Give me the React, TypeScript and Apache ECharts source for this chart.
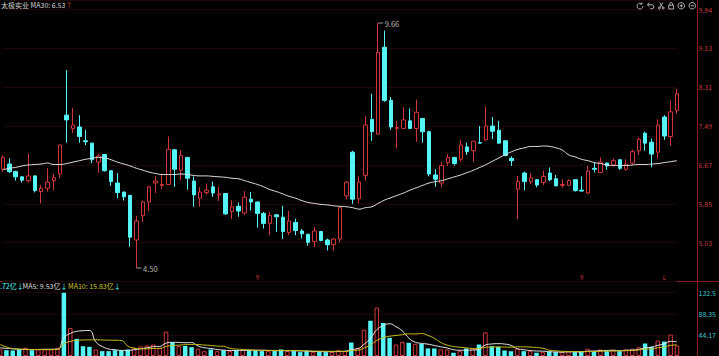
import React, { useEffect, useRef } from 'react';
import * as echarts from 'echarts';

// ---- data (daily candles) ----
const opens = [6.58,6.69,6.53,6.42,6.34,6.44,6.11,6.18,6.34,6.48, 7.72,7.44,7.47,7.18,7.13,6.73,6.89,6.55,6.29,6.10, 6.03,5.09,5.60,5.89,6.29,6.24,6.26,6.99,6.56,6.83, 6.33,5.97,6.09,6.21,6.04,6.07,5.69,5.80,5.66,5.95, 5.89,5.65,5.44,5.62,5.57,5.25,5.46,5.28,5.21,5.06, 5.27,5.09,4.99,5.11,6.02,6.94,5.96,6.45,7.63,7.32, 9.15,8.03,7.44,7.44,7.60,7.44,7.65,7.37,6.46,6.29, 6.72,6.83,6.79,7.05,6.97,7.14,7.20,7.49,7.40,7.18, 6.81,6.16,6.50,6.32,6.36,6.30,6.50,6.38,6.24,6.24, 6.36,6.14,6.08,6.60,6.51,6.71,6.67,6.78,6.58,6.71, 6.97,7.34,7.15,6.94,7.68,7.27,7.82];
const closes = [6.83,6.53,6.42,6.35,6.44,6.13,6.18,6.31,6.40,7.09, 7.62,7.51,7.27,7.16,6.78,6.86,6.55,6.32,6.09,6.00, 5.15,5.49,5.89,6.21,6.33,6.26,7.00,6.58,6.87,6.39, 6.04,6.10,6.14,6.08,6.06,5.64,5.79,5.70,5.99,5.89, 5.65,5.44,5.61,5.58,5.27,5.49,5.29,5.22,5.04,5.28, 5.08,4.99,5.11,5.77,6.31,5.95,6.31,7.51,7.37,9.04, 8.03,7.47,7.46,7.62,7.44,7.78,7.37,6.48,6.37,6.66, 6.83,6.70,7.09,6.95,7.17,7.13,7.49,7.38,7.13,6.87, 6.76,6.32,6.32,6.40,6.25,6.43,6.36,6.23,6.26,6.34, 6.13,6.12,6.54,6.58,6.73,6.65,6.76,6.60,6.69,6.95, 7.21,7.13,6.90,7.51,7.28,7.79,8.17];
const lows = [6.52,6.50,6.34,6.30,6.30,6.09,5.86,6.11,6.14,6.39, 7.14,7.34,7.14,7.09,6.71,6.51,6.53,6.23,5.97,5.92, 4.95,4.50,5.47,5.70,6.08,6.17,6.25,6.21,6.35,6.15, 5.79,5.79,6.04,6.00,5.91,5.62,5.53,5.58,5.62,5.71, 5.35,5.33,5.19,5.26,5.11,5.19,5.19,5.12,4.97,4.94, 5.06,4.87,4.87,5.04,5.95,5.85,5.86,6.34,7.18,7.31, 8.00,7.41,7.02,7.43,7.43,7.16,7.14,6.43,6.21,6.20, 6.65,6.66,6.74,6.88,6.74,7.12,7.18,7.21,7.12,6.85, 6.65,5.53,6.14,6.27,6.20,6.25,6.33,6.22,6.19,6.23, 6.11,6.11,6.05,6.51,6.50,6.57,6.64,6.57,6.55,6.68, 6.88,6.97,6.62,6.81,7.20,7.07,7.75];
const highs = [6.87,6.81,6.55,6.43,6.90,6.45,6.25,6.60,6.48,7.10, 8.67,7.87,7.72,7.41,7.14,6.90,6.90,6.56,6.50,6.11, 6.04,5.60,5.92,6.23,6.44,6.46,7.27,7.00,6.98,6.84, 6.43,6.20,6.28,6.32,6.21,6.08,5.93,5.88,6.12,6.10, 5.90,5.68,5.68,5.63,5.81,5.70,5.54,5.32,5.22,5.36, 5.28,5.12,5.13,5.79,6.33,6.97,6.43,7.70,8.17,9.66, 9.50,8.10,7.60,7.89,7.86,8.05,7.66,7.39,6.58,6.74, 6.90,6.84,7.20,7.14,7.18,7.49,7.90,7.68,7.60,7.19, 6.85,6.44,6.53,6.50,6.37,6.55,6.62,6.46,6.37,6.37, 6.37,6.43,6.65,6.72,6.83,6.72,6.81,6.79,6.79,6.99, 7.25,7.37,7.23,7.63,7.72,8.03,8.27];
const ma30 = [6.57,6.60,6.62,6.65,6.67,6.68,6.69,6.71,6.68,6.68, 6.70,6.73,6.76,6.79,6.81,6.83,6.82,6.78,6.73,6.69, 6.65,6.60,6.56,6.52,6.49,6.47,6.47,6.47,6.48,6.47, 6.45,6.44,6.44,6.43,6.42,6.41,6.39,6.38,6.34,6.30, 6.26,6.21,6.15,6.11,6.06,6.01,5.97,5.92,5.88,5.86, 5.84,5.83,5.81,5.80,5.79,5.77,5.74,5.77,5.79,5.86, 5.93,5.98,6.03,6.08,6.14,6.19,6.24,6.29,6.32,6.34, 6.38,6.42,6.46,6.51,6.56,6.62,6.68,6.75,6.82,6.89, 6.95,7.00,7.03,7.06,7.06,7.07,7.06,7.03,6.98,6.88, 6.84,6.79,6.76,6.72,6.70,6.67,6.66,6.66,6.66,6.67, 6.68,6.68,6.69,6.70,6.72,6.74,6.76];
const volumes = [13.7,12.2,11.6,13.7,17.2,12.2,13.7,13.7,13.7,17.2, 132.5,58.7,35.9,20.5,19.3,13.7,10.2,10.2,12.2,12.2, 13.7,17.2,20.5,22.0,24.0,17.2,51.0,28.8,21.0,21.0, 18.5,15.5,10.2,13.7,10.2,12.2,10.2,12.2,13.7,12.2, 12.2,10.2,10.2,10.2,13.7,10.2,10.2,8.1,10.2,8.1, 10.2,8.1,8.5,12.2,10.2,28.2,17.2,55.2,73.8,101.4, 69.1,38.0,24.0,29.7,27.6,25.5,25.5,15.8,15.8,13.7, 13.7,6.8,10.2,15.8,15.8,24.0,49.6,20.5,19.3,11.6, 10.2,15.1,10.2,10.2,6.8,8.1,9.5,8.1,8.1,9.5, 8.1,9.5,15.1,9.5,13.7,10.2,12.2,10.2,13.7,15.1, 18.5,26.1,19.3,32.4,30.3,44.8,22.0];
const volMA5 = [17.0,16.0,15.0,14.0,13.68,13.38,13.68,14.1,14.1,14.1, 38.16,47.16,51.6,52.96,53.38,29.62,19.92,14.78,13.12,11.7, 11.7,13.1,15.16,17.12,19.48,20.18,26.94,28.6,28.4,27.8, 28.06,20.96,17.24,15.78,13.62,12.36,11.3,11.7,11.7,12.1, 12.1,12.1,11.7,11.0,11.3,10.9,10.9,10.48,10.48,9.36, 9.36,8.94,9.02,9.42,9.84,13.44,15.26,24.6,36.92,55.16, 63.34,67.5,61.26,52.44,37.68,28.96,26.46,24.82,22.04,19.26, 16.9,13.16,12.04,12.04,12.46,14.52,23.08,25.14,25.84,25.0, 22.24,15.34,13.28,11.46,10.5,10.08,8.96,8.54,8.12,8.66, 8.66,8.66,10.06,10.34,11.18,11.6,12.14,11.16,12.0,12.28, 13.94,16.72,18.54,22.28,25.32,30.58,29.76];
const volMA10 = [24.0,19.0,15.5,14.5,14.0,13.8,13.6,13.5,13.6,13.89, 25.77,30.42,32.85,33.53,33.74,33.89,33.54,33.19,33.04,32.54, 20.66,16.51,14.97,15.12,15.59,15.94,20.02,21.88,22.76,23.64, 24.12,23.95,22.92,22.09,20.71,20.21,16.13,14.47,13.74,12.86, 12.23,11.7,11.7,11.35,11.7,11.5,11.5,11.09,10.74,10.33, 10.13,9.92,9.75,9.95,9.6,11.4,12.1,16.81,23.17,32.5, 38.39,41.38,42.93,44.68,46.42,46.15,46.98,43.04,37.24,28.47, 22.93,19.81,18.43,17.04,15.86,15.71,18.12,18.59,18.94,18.73, 18.38,19.21,19.21,18.65,17.75,16.16,12.15,10.91,9.79,9.58, 9.37,8.81,9.3,9.23,9.92,10.13,10.4,10.61,11.17,11.73, 12.77,14.43,14.85,17.14,18.8,22.26,23.24];

const categories = opens.map((_, i) => `D${i + 1}`);
const markIdx = [40, 91, 104];
const markText = ['9', '9', 'L'];

const PRICE_MIN = 4.2157;
const PRICE_MAX = 10.145;
const PRICE_STEP = 0.8183;
const VOL_MAX = 132.52;
const VOL_STEP = 44.1733;

const UP = '#d3363a';
const DOWN = '#55f4f7';
const FONT = '"Noto Sans CJK SC", "Noto Sans", sans-serif';

const toolIcons = {
  myRefresh: 'path://M20,12 A8,8 0 1,1 17.66,6.34 M17.66,6.34 L18,2 M17.66,6.34 L13.5,6.5',
  myUndo: 'path://M9,5 L4,10 L9,15 M4,10 L15,10 A5,5 0 0,1 15,20 L11,20',
  myCut: 'path://M6,16 A3,3 0 1,0 6,22 A3,3 0 1,0 6,16 Z M18,16 A3,3 0 1,0 18,22 A3,3 0 1,0 18,16 Z M8,17 L17,2 M16,17 L7,2',
  myLock: 'path://M5,11 L19,11 L19,22 L5,22 Z M8,11 L8,7 A4,4 0 0,1 16,7 L16,11',
  myZoomIn: 'path://M12,2 A10,10 0 1,1 11.99,2 Z M7,12 L17,12 M12,7 L12,17',
  myZoomOut: 'path://M12,2 A10,10 0 1,1 11.99,2 Z M7,12 L17,12',
};

export default function App() {
  const ref = useRef<HTMLDivElement>(null);
  useEffect(() => {
    const chart = echarts.init(ref.current!, null, { renderer: 'svg' });
    const candleData = opens.map((o, i) => [o, closes[i], lows[i], highs[i]]);
    const volData = volumes.map((v, i) => {
      const up = closes[i] >= opens[i];
      return {
        value: v,
        itemStyle: up ? { color: '#000', borderColor: UP, borderWidth: 1 } : { color: DOWN },
      };
    });
    let hiIdx = 0;
    let loIdx = 0;
    highs.forEach((h, i) => { if (h > highs[hiIdx]) hiIdx = i; });
    lows.forEach((l, i) => { if (l < lows[loIdx]) loIdx = i; });

    const feature: any = {};
    Object.entries(toolIcons).forEach(([k, icon]) => {
      feature[k] = { show: true, title: k, icon, onclick: () => {} };
    });

    const option: any = {
      animation: false,
      backgroundColor: '#000',
      textStyle: { fontFamily: FONT },
      toolbox: {
        right: 6, top: -15, itemSize: 6.5, itemGap: -0.5, showTitle: false,
        iconStyle: { borderColor: '#b0b0b0', color: 'none', borderWidth: 1 },
        feature,
      },
      grid: [
        { left: 0, right: 42, top: 0, height: 281.5 },
        { left: 0, right: 42, top: 292.7, height: 63.9 },
      ],
      xAxis: [
        {
          type: 'category', gridIndex: 0, data: categories, boundaryGap: false,
          axisLine: { show: false }, axisTick: { show: false }, splitLine: { show: false },
          axisLabel: {
            show: true, inside: true, interval: 0, margin: 1, fontSize: 6, color: UP,
            formatter: (_v: string, idx: number) => {
              const k = markIdx.indexOf(idx);
              return k >= 0 ? markText[k] : '';
            },
          },
        },
        {
          type: 'category', gridIndex: 1, data: categories, boundaryGap: false,
          axisLine: { show: false }, axisTick: { show: false }, axisLabel: { show: false }, splitLine: { show: false },
        },
      ],
      yAxis: [
        {
          type: 'value', gridIndex: 0, position: 'right', offset: 20,
          min: PRICE_MIN, max: PRICE_MAX, interval: PRICE_STEP,
          axisLine: { show: false }, axisTick: { show: false },
          axisLabel: {
            color: '#c83a3a', fontSize: 7, margin: 1.5,
            formatter: (v: number) => (v < 4.5 || v > 10 ? '' : v.toFixed(2)),
          },
          splitLine: { lineStyle: { color: '#200707', width: 1 } },
        },
        {
          type: 'value', gridIndex: 1, position: 'right', offset: 20,
          min: 0, max: VOL_MAX, interval: VOL_STEP,
          axisLine: { show: false }, axisTick: { show: false },
          axisLabel: {
            color: '#3ec3cf', fontSize: 7, margin: 1.5,
            formatter: (v: number) => (v === 0 ? '' : String(Number(v.toPrecision(4)))),
          },
          splitLine: { lineStyle: { color: '#200707', width: 1 } },
        },
      ],
      graphic: [
        { type: 'line', silent: true, shape: { x1: 0, y1: 281.5, x2: 719, y2: 281.5 }, style: { stroke: '#8e1b1b', lineWidth: 1 } },
        { type: 'line', silent: true, shape: { x1: 697.5, y1: 0, x2: 697.5, y2: 356 }, style: { stroke: '#8e1b1b', lineWidth: 1 } },
        {
          type: 'text', x: 1, y: 1, silent: true,
          style: {
            text: '{a|太极实业 MA30: 6.53}{b|↑}',
            rich: {
              a: { fill: '#d6d6d6', fontSize: 7, fontFamily: FONT },
              b: { fill: UP, fontSize: 7, fontFamily: FONT },
            },
          },
        },
        {
          type: 'text', x: 0, y: 282.5, silent: true,
          style: { text: '{a|.72亿}{b|↓}', rich: { a: { fill: DOWN, fontSize: 7, fontFamily: FONT }, b: { fill: DOWN, fontSize: 7, fontFamily: FONT } } },
        },
        {
          type: 'text', x: 22.5, y: 282.5, silent: true,
          style: { text: '{a|MA5: 9.53亿}{b|↓}', rich: { a: { fill: '#dcdcdc', fontSize: 7, fontFamily: FONT }, b: { fill: DOWN, fontSize: 7, fontFamily: FONT } } },
        },
        {
          type: 'text', x: 68, y: 282.5, silent: true,
          style: { text: '{a|MA10: 15.83亿}{b|↓}', rich: { a: { fill: '#cfc72a', fontSize: 7, fontFamily: FONT }, b: { fill: DOWN, fontSize: 7, fontFamily: FONT } } },
        },
      ],
      series: [
        {
          type: 'candlestick', xAxisIndex: 0, yAxisIndex: 0, data: candleData, barWidth: 4,
          silent: true,
          itemStyle: { color: '#000', color0: DOWN, borderColor: UP, borderColor0: DOWN, borderWidth: 1 },
          markPoint: {
            silent: true,
            symbol: 'rect', symbolSize: [5, 1], symbolOffset: [2.5, 0],
            itemStyle: { color: '#9a9a9a' },
            label: {
              show: true, position: 'right', distance: 1.5, color: '#b5b5b5', fontSize: 7.5,
              formatter: (p: any) => Number(p.value).toFixed(2),
            },
            data: [
              { coord: [categories[hiIdx], highs[hiIdx]], value: highs[hiIdx] },
              { coord: [categories[loIdx], lows[loIdx]], value: lows[loIdx] },
            ],
          },
        },
        {
          type: 'line', name: 'MA30', xAxisIndex: 0, yAxisIndex: 0, data: ma30, smooth: true,
          symbol: 'none', silent: true, lineStyle: { color: '#e4e4e4', width: 1 },
        },
        {
          type: 'bar', xAxisIndex: 1, yAxisIndex: 1, data: volData, barWidth: 4.5, silent: true,
        },
        {
          type: 'line', name: 'MA5', xAxisIndex: 1, yAxisIndex: 1, data: volMA5, smooth: true,
          symbol: 'none', silent: true, lineStyle: { color: '#e6e6e6', width: 1 },
        },
        {
          type: 'line', name: 'MA10', xAxisIndex: 1, yAxisIndex: 1, data: volMA10, smooth: true,
          symbol: 'none', silent: true, lineStyle: { color: '#c9c21c', width: 1 },
        },
      ],
    };
    chart.setOption(option);
    return () => chart.dispose();
  }, []);
  return (
    <div
      ref={ref}
      style={{ position: 'fixed', left: 0, top: 0, width: 719, height: 356, background: '#000' }}
    />
  );
}
